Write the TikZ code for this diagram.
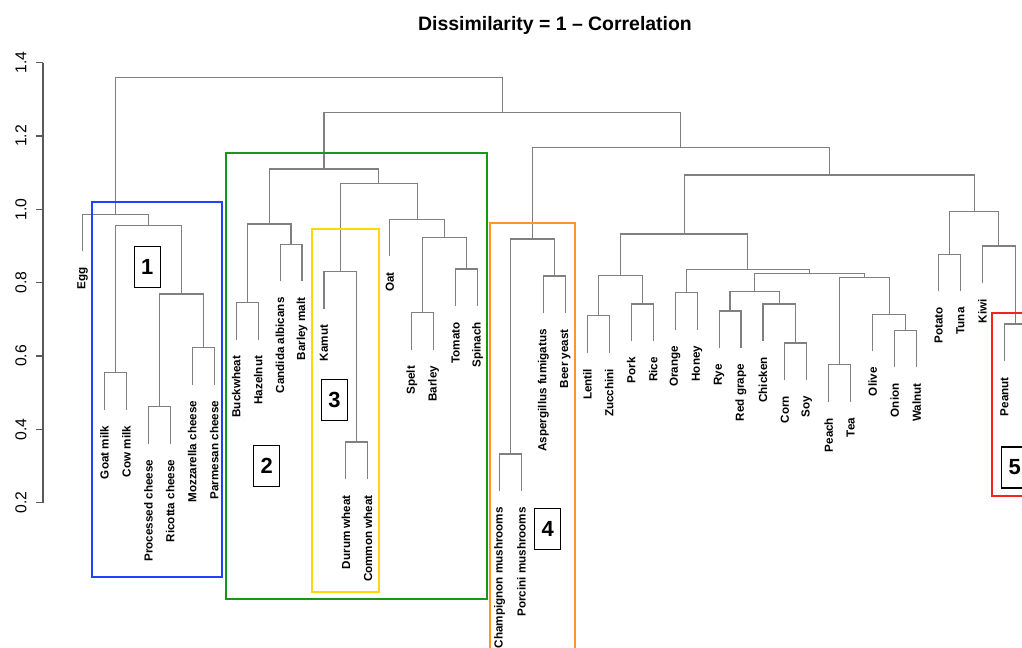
\documentclass[tikz,border=0pt]{standalone}
\usepackage{fontspec}
\setmainfont{Liberation Sans}
\usetikzlibrary{calc}
\definecolor{boxblue}{RGB}{35,65,250}
\definecolor{boxgreen}{RGB}{25,150,25}
\definecolor{boxyellow}{RGB}{255,215,10}
\definecolor{boxorange}{RGB}{255,150,35}
\definecolor{boxred}{RGB}{245,35,30}
\tikzset{dend/.style={draw=black!50,line width=1.1bp}}
\tikzset{axisline/.style={draw=black!65,line width=1.1bp}}
\tikzset{leaflabel/.style={rotate=90,anchor=east,inner sep=0pt,
font=\fontsize{11.7}{12}\selectfont\bfseries}}
\tikzset{axislabel/.style={rotate=90,inner sep=0pt,font=\fontsize{15.8}{16}\selectfont}}
\tikzset{clusterbox/.style={line width=2bp}}
\tikzset{numbox/.style={rectangle,draw=black,fill=white,line width=1.2bp,
inner sep=0pt,minimum width=26bp,minimum height=41bp,font=\fontsize{22}{24}\selectfont\bfseries}}
\newcommand{\dmerge}[4]{%
  \coordinate (#3h) at ($(#1)!0.5!(#2)$);
  \coordinate (#3) at (#3h |- 0,#4);
  \draw[dend] (#1) |- (#3) -| (#2);
}
\begin{document}
\begin{tikzpicture}[x=1bp,y=-1bp]
    \useasboundingbox (0,0) rectangle (1022,648);
    \clip (0,0) rectangle (1022,648);
    \fill[white] (0,0) rectangle (1022,648);

    \node[font=\fontsize{19.5}{20}\selectfont\bfseries] (title) at (555,25) {Dissimilarity = 1 – Correlation};

    \draw[axisline] (43,62.7) -- (43,502.7);
    \foreach \t [count=\k from 0] in {1.4,1.2,1.0,0.8,0.6,0.4,0.2} {
        \draw[axisline] (43,{62.7+73.33*\k}) -- (36,{62.7+73.33*\k});
        \node[axislabel] (tick\k) at (21,{62.7+73.33*\k}) {\t};
    }

    \foreach \i/\lab/\ty in {1/Egg/251.3, 2/Goat milk/409.7, 3/Cow milk/409.7,
        4/Processed cheese/443.7, 5/Ricotta cheese/443.7, 6/Mozzarella cheese/384.7,
        7/Parmesan cheese/384.7, 8/Buckwheat/339.7, 9/Hazelnut/339.7,
        10/Candida albicans/281.3, 11/Barley malt/281.3, 12/Kamut/308.7,
        13/Durum wheat/479, 14/Common wheat/479, 15/Oat/256.3, 16/Spelt/349.7,
        17/Barley/349.7, 18/Tomato/306, 19/Spinach/306, 20/Champignon mushrooms/491,
        21/Porcini mushrooms/491, 22/Aspergillus fumigatus/313, 23/Beer yeast/313,
        24/Lentil/352.7, 25/Zucchini/352.7, 26/Pork/341, 27/Rice/341, 28/Orange/329.7,
        29/Honey/329.7, 30/Rye/348, 31/Red grape/348, 32/Chicken/341, 33/Corn/380,
        34/Soy/380, 35/Peach/401.7, 36/Tea/401.7, 37/Olive/351.3, 38/Onion/367.3,
        39/Walnut/367.3, 40/Potato/291.3, 41/Tuna/291.3, 42/Kiwi/283, 43/Peanut/361,
        44/Almond/361} {
        \coordinate (t\i) at ({82.5+21.95*(\i-1)},\ty);
        \node[leaflabel] (l\i) at ([yshift=-16bp]t\i) {\lab};
    }

    % dairy
    \dmerge{t2}{t3}{goatcow}{372.7}
    \dmerge{t4}{t5}{procric}{406.7}
    \dmerge{t6}{t7}{mozzparm}{347.7}
    \dmerge{procric}{mozzparm}{cheese}{294}
    \dmerge{goatcow}{cheese}{dairy}{225.3}
    \dmerge{t1}{dairy}{eggdairy}{214.3}
    % cereals
    \dmerge{t8}{t9}{buckhaz}{302.7}
    \dmerge{t10}{t11}{candmalt}{244.3}
    \dmerge{buckhaz}{candmalt}{buckmalt}{224}
    \dmerge{t13}{t14}{wheat}{442}
    \dmerge{t12}{wheat}{kamwheat}{271.7}
    \dmerge{t16}{t17}{speltbar}{312.7}
    \dmerge{t18}{t19}{tomspin}{269}
    \dmerge{speltbar}{tomspin}{sbts}{237.7}
    \dmerge{t15}{sbts}{oatgrp}{219.3}
    \dmerge{kamwheat}{oatgrp}{kamoat}{183.3}
    \dmerge{buckmalt}{kamoat}{cereal}{169}
    % fungi
    \dmerge{t20}{t21}{mush}{454}
    \dmerge{t22}{t23}{yeast}{276}
    \dmerge{mush}{yeast}{fungi}{239}
    % the rest
    \dmerge{t24}{t25}{lentzuc}{315.7}
    \dmerge{t26}{t27}{porkrice}{304}
    \dmerge{lentzuc}{porkrice}{lzpr}{275.3}
    \dmerge{t28}{t29}{orhon}{292.7}
    \dmerge{t30}{t31}{ryegrape}{311}
    \dmerge{t33}{t34}{cornsoy}{343}
    \dmerge{t32}{cornsoy}{chickcs}{304}
    \dmerge{ryegrape}{chickcs}{ryechick}{291.5}
    \dmerge{t35}{t36}{peachtea}{364.7}
    \dmerge{t38}{t39}{onwal}{330.3}
    \dmerge{t37}{onwal}{oliveow}{314.3}
    \dmerge{peachtea}{oliveow}{ptoo}{277.3}
    \dmerge{ryechick}{ptoo}{ryeolive}{273.8}
    \dmerge{orhon}{ryeolive}{orolive}{269.2}
    \dmerge{lzpr}{orolive}{veg}{234}
    \dmerge{t40}{t41}{pottuna}{254.3}
    \dmerge{t43}{t44}{nuts}{324}
    \dmerge{t42}{nuts}{kiwinuts}{246}
    \dmerge{pottuna}{kiwinuts}{tuber}{211.7}
    \dmerge{veg}{tuber}{mixed}{175}
    \dmerge{fungi}{mixed}{big}{147.7}
    \dmerge{cereal}{big}{plant}{112.7}
    \dmerge{eggdairy}{plant}{root}{77.7}

    \draw[clusterbox,boxblue] (92.3,201.7) rectangle (222.3,576.7);
    \draw[clusterbox,boxgreen] (226,152.7) rectangle (486.7,599.3);
    \draw[clusterbox,boxyellow] (312,229) rectangle (379.3,592);
    \draw[clusterbox,boxorange] (490,222.7) rectangle (575,660);
    \draw[clusterbox,boxred] (992,313) rectangle (1040,496);

    \node[numbox] (numA) at (147.3,266.8) {1};
    \node[numbox] (numB) at (266.7,466.3) {2};
    \node[numbox] (numC) at (334.5,399.7) {3};
    \node[numbox] (numD) at (547.7,528.8) {4};
    \node[numbox] (numE) at (1014.7,467.5) {5};

\end{tikzpicture}
\end{document}
